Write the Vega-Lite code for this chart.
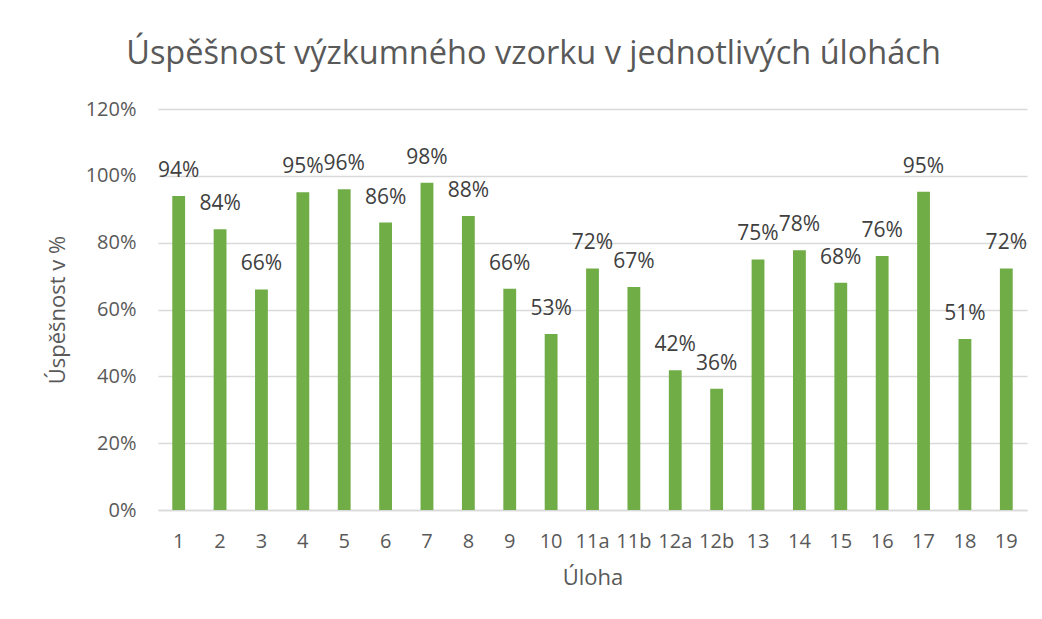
{
  "$schema": "https://vega.github.io/schema/vega-lite/v6.json",
  "width": 869,
  "height": 401,
  "autosize": {"type": "none"},
  "padding": {"left": 158, "top": 109, "right": 15, "bottom": 109},
  "background": "white",
  "title": {
    "text": "Úspěšnost výzkumného vzorku v jednotlivých úlohách",
    "fontSize": 32.5,
    "font": "Open Sans",
    "fontWeight": "normal",
    "color": "#595959",
    "anchor": "middle",
    "baseline": "alphabetic",
    "offset": 3,
    "dx": -59
  },
  "config": {
    "view": {"stroke": null},
    "font": "Open Sans",
    "axis": {
      "labelFont": "Open Sans",
      "titleFont": "Open Sans",
      "labelColor": "#595959",
      "titleColor": "#595959",
      "titleFontWeight": "normal",
      "labelFontSize": 20,
      "titleFontSize": 22,
      "gridColor": "#D9D9D9",
      "gridWidth": 1.4,
      "domainColor": "#D9D9D9",
      "domainWidth": 1.4,
      "ticks": false
    }
  },
  "data": {
    "values": [
      {"uloha": "1", "uspesnost": 0.94},
      {"uloha": "2", "uspesnost": 0.84},
      {"uloha": "3", "uspesnost": 0.66},
      {"uloha": "4", "uspesnost": 0.951},
      {"uloha": "5", "uspesnost": 0.96},
      {"uloha": "6", "uspesnost": 0.86},
      {"uloha": "7", "uspesnost": 0.979},
      {"uloha": "8", "uspesnost": 0.88},
      {"uloha": "9", "uspesnost": 0.662},
      {"uloha": "10", "uspesnost": 0.527},
      {"uloha": "11a", "uspesnost": 0.723},
      {"uloha": "11b", "uspesnost": 0.667},
      {"uloha": "12a", "uspesnost": 0.418},
      {"uloha": "12b", "uspesnost": 0.363},
      {"uloha": "13", "uspesnost": 0.75},
      {"uloha": "14", "uspesnost": 0.777},
      {"uloha": "15", "uspesnost": 0.68},
      {"uloha": "16", "uspesnost": 0.76},
      {"uloha": "17", "uspesnost": 0.952},
      {"uloha": "18", "uspesnost": 0.512},
      {"uloha": "19", "uspesnost": 0.723}
    ]
  },
  "encoding": {
    "x": {
      "field": "uloha",
      "type": "nominal",
      "sort": null,
      "title": "Úloha",
      "scale": {"paddingInner": 0.69, "paddingOuter": 0.345},
      "axis": {"labelAngle": 0, "labelPadding": 21, "titlePadding": 16, "domain": true, "grid": false}
    },
    "y": {
      "field": "uspesnost",
      "type": "quantitative",
      "title": "Úspěšnost v %",
      "scale": {"domain": [0, 1.2], "nice": false},
      "axis": {"values": [0, 0.2, 0.4, 0.6, 0.8, 1.0, 1.2], "format": ".0%", "domain": false, "labelPadding": 22, "titlePadding": 16, "grid": true}
    }
  },
  "layer": [
    {"mark": {"type": "bar", "color": "#70AD47"}},
    {
      "mark": {"type": "text", "baseline": "middle", "dy": -25, "fontSize": 21, "font": "Open Sans", "color": "#404040"},
      "encoding": {"text": {"field": "uspesnost", "type": "quantitative", "format": ".0%"}}
    }
  ]
}
